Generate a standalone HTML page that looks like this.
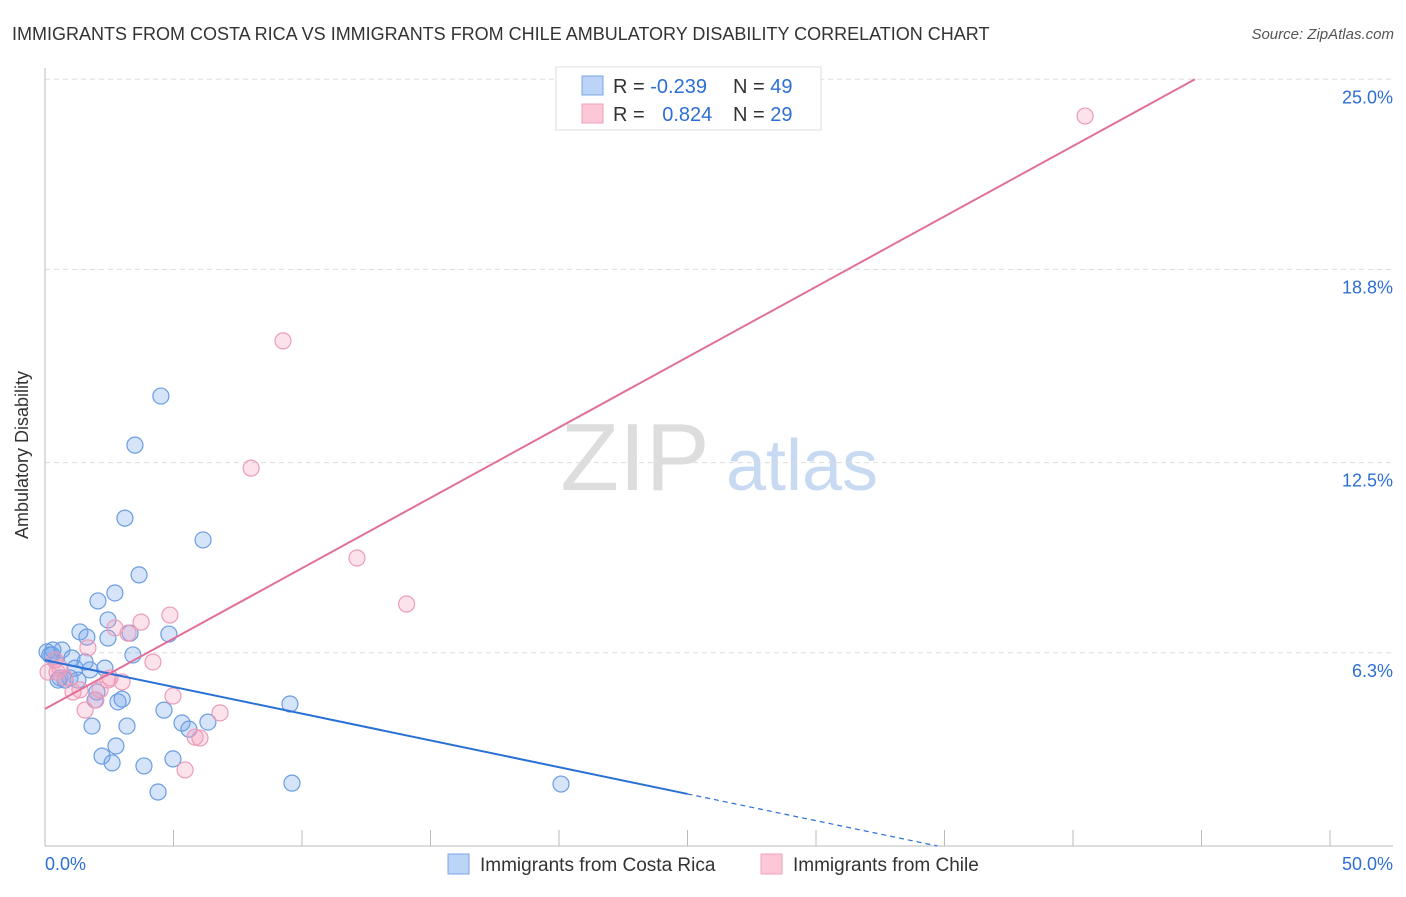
<!DOCTYPE html>
<html><head><meta charset="utf-8"><style>
body{margin:0;background:#fff;font-family:"Liberation Sans",sans-serif;}
svg text{font-family:"Liberation Sans",sans-serif;}
</style></head><body>
<svg id="chart" width="1406" height="892">
<text x="12" y="40" font-size="18" fill="#333">IMMIGRANTS FROM COSTA RICA VS IMMIGRANTS FROM CHILE AMBULATORY DISABILITY CORRELATION CHART</text>
<text x="1394" y="39" font-size="15" fill="#555" text-anchor="end" font-style="italic">Source: ZipAtlas.com</text>
<text x="28" y="455" font-size="18" fill="#333" text-anchor="middle" transform="rotate(-90 28 455)">Ambulatory Disability</text>
<g><text x="635" y="490" font-size="96" fill="#ddd" text-anchor="middle" font-family="Liberation Serif">ZIP</text><text x="802" y="490" font-size="72" fill="#c8daf2" text-anchor="middle">atlas</text></g>
<g id="grid"></g><g id="axes"></g><g id="marks"></g>
<g>
<rect x="556" y="67" width="265" height="63" fill="#fff" stroke="#ddd"/>
<rect x="582" y="76" width="21" height="19" fill="#bcd4f7" stroke="#7aa6e6"/>
<rect x="582" y="104" width="21" height="19" fill="#fcc8d8" stroke="#f0a0ba"/>
<text x="613" y="93" font-size="20" fill="#333">R = <tspan fill="#2e6fd4">-0.239</tspan></text>
<text x="733" y="93" font-size="20" fill="#333">N = <tspan fill="#2e6fd4">49</tspan></text>
<text x="613" y="121" font-size="20" fill="#333">R = <tspan fill="#2e6fd4" dx="12">0.824</tspan></text>
<text x="733" y="121" font-size="20" fill="#333">N = <tspan fill="#2e6fd4">29</tspan></text>
</g>
<g>
<rect x="448" y="854" width="21" height="20" fill="#bcd4f7" stroke="#7aa6e6"/>
<text x="480" y="871" font-size="19" fill="#333">Immigrants from Costa Rica</text>
<rect x="761" y="854" width="21" height="20" fill="#fcc8d8" stroke="#f0a0ba"/>
<text x="793" y="871" font-size="19" fill="#333">Immigrants from Chile</text>
</g>
</svg>
<script>
const blueX=[0.08,0.19,0.31,0.39,0.51,0.66,0.78,0.97,1.05,1.17,1.28,1.36,1.56,1.63,1.75,1.83,2.02,2.06,2.22,2.33,2.45,2.45,2.61,2.72,2.76,2.84,3.00,3.11,3.19,3.31,3.42,3.50,3.66,3.85,4.40,4.51,4.63,4.82,4.98,5.33,5.60,6.15,6.34,9.53,9.61,20.08,0.27,0.58,1.95];
const blueY=[6.33,6.23,6.39,6.06,5.41,6.39,5.41,5.48,6.13,5.80,5.41,6.98,6.00,6.81,5.74,3.91,5.02,7.99,2.93,5.80,6.78,7.37,2.71,8.25,3.26,4.70,4.79,10.69,3.91,6.94,6.23,13.07,8.84,2.61,1.76,14.67,4.43,6.91,2.84,4.01,3.81,9.98,4.04,4.63,2.05,2.02,6.23,5.48,4.76];
const pinkX=[0.12,0.39,0.58,0.78,1.09,1.36,1.56,1.67,1.98,2.14,2.45,2.72,3.00,3.23,3.74,4.20,4.86,4.98,5.45,5.84,6.03,6.81,8.02,9.26,12.14,14.07,40.47,0.47,2.53];
const pinkY=[5.67,6.06,5.80,5.48,5.02,5.09,4.43,6.46,4.76,5.09,5.41,7.11,5.35,6.94,7.30,6.00,7.53,4.89,2.48,3.55,3.52,4.34,12.32,16.47,9.39,7.89,23.80,5.67,5.48];
const yTicks=[25.0,18.8,12.5,6.3];
const yTickLabels=["25.0%","18.8%","12.5%","6.3%"];
const blueTrend=[6.06,-0.1745];
const pinkTrend=[4.47,0.4588];
const sx=v=>45+v*25.7, sy=v=>846-v*30.67;
const NS="http://www.w3.org/2000/svg";
function mk(p,t,a){const e=document.createElementNS(NS,t);for(const k in a)e.setAttribute(k,a[k]);p.appendChild(e);return e;}
const grid=document.getElementById('grid'),axes=document.getElementById('axes'),marks=document.getElementById('marks');
yTicks.forEach((t,i)=>{
 const l=mk(grid,'line',{x1:45,x2:1393,y1:sy(t),y2:sy(t),stroke:'#ddd','stroke-dasharray':'5,4'});
 
 
 const tx=mk(axes,'text',{x:1393,y:sy(t)+24,'font-size':18,fill:'#2e6fd4','text-anchor':'end'});
 tx.textContent=yTickLabels[i];
 
 
});
let a=mk(axes,'line',{x1:45,x2:45,y1:68,y2:846,stroke:'#bbb'});


a=mk(axes,'line',{x1:45,x2:1393,y1:846,y2:846,stroke:'#bbb'});


for(let i=0;i<=10;i++){const t=mk(axes,'line',{x1:sx(i*5),x2:sx(i*5),y1:830,y2:846,stroke:'#bbb'});
 
 }
let xl=mk(axes,'text',{x:45,y:870,'font-size':18,fill:'#2e6fd4'});xl.textContent='0.0%';


xl=mk(axes,'text',{x:1393,y:870,'font-size':18,fill:'#2e6fd4','text-anchor':'end'});xl.textContent='50.0%';


function dots(X,Y,f,s,n){X.forEach((x,i)=>{const c=mk(marks,'circle',{cx:sx(x),cy:sy(Y[i]),r:8,fill:f,stroke:s,'stroke-width':1.2});
 
 });}
dots(blueX,blueY,'rgba(120,165,235,0.3)','#6a9de2','costa-rica-point');
dots(pinkX,pinkY,'rgba(245,160,190,0.3)','#eb9cb8','chile-point');
const bx1=25, bx2=-blueTrend[0]/blueTrend[1];
let L=mk(marks,'line',{x1:sx(0),y1:sy(blueTrend[0]),x2:sx(bx1),y2:sy(blueTrend[0]+blueTrend[1]*bx1),stroke:'#2a6fd6','stroke-width':2});


L=mk(marks,'line',{x1:sx(bx1),y1:sy(blueTrend[0]+blueTrend[1]*bx1),x2:sx(bx2),y2:sy(0),stroke:'#2a6fd6','stroke-width':1.2,'stroke-dasharray':'5,4'});


const px2=(25-pinkTrend[0])/pinkTrend[1];
L=mk(marks,'line',{x1:sx(0),y1:sy(pinkTrend[0]),x2:sx(px2),y2:sy(25),stroke:'#e0709a','stroke-width':2});


</script>
</body></html>
